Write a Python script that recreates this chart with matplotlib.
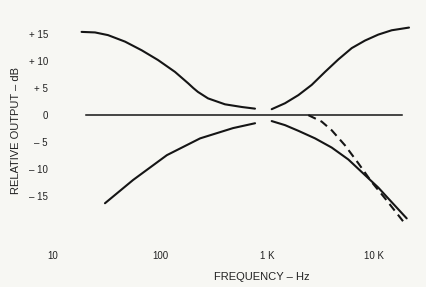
import numpy as np
import matplotlib
matplotlib.use("Agg")
import matplotlib.pyplot as plt

# Tone control response curves (frequency in Hz, output in dB)
bass_boost_f = [18.5, 24.7, 32.7, 47.1, 67.4, 95.7, 138, 183, 205, 226, 281, 405, 584, 772]
bass_boost_db = [15.4, 15.3, 14.8, 13.6, 12.0, 10.2, 8.0, 5.9, 5.0, 4.3, 3.1, 2.0, 1.5, 1.2]

bass_cut_f = [30.6, 56, 116, 237, 481, 773]
bass_cut_db = [-16.3, -12.0, -7.4, -4.3, -2.4, -1.5]

treble_boost_f = [1106, 1473, 1963, 2618, 3484, 4637, 6190, 8240, 10960, 14630, 21230]
treble_boost_db = [1.1, 2.2, 3.7, 5.6, 8.0, 10.3, 12.4, 13.8, 14.9, 15.7, 16.2]

treble_cut_f = [1106, 1473, 1963, 2812, 4024, 5750, 8240, 10960, 14630, 20200]
treble_cut_db = [-1.1, -1.85, -2.9, -4.3, -6.0, -8.2, -11.1, -13.4, -16.1, -19.1]

dashed_f = [2432, 3243, 4024, 5360, 7130, 9530, 12680, 19500]
dashed_db = [0, -1.2, -2.8, -5.6, -8.9, -12.4, -15.4, -20.1]

flat_f = [20.3, 18300]
flat_db = [0, 0]

x_ticks = [10, 100, 1000, 10000]
x_tick_labels = ["10", "100", "1 K", "10 K"]
y_ticks = [15, 10, 5, 0, -5, -10, -15]
y_tick_labels = ["+ 15", "+ 10", "+ 5", "0", "– 5", "– 10", "– 15"]

plt.rcParams['font.family'] = ['Liberation Sans', 'DejaVu Sans']
bg = "#f7f7f3"
ink = "#151515"
txt = "#222222"

fig = plt.figure(figsize=(4.26, 2.87), dpi=100, facecolor=bg)
W, H = 426, 287
left, right, top, bottom = 50, 415, 20, 240
ax = fig.add_axes([left / W, 1 - bottom / H, (right - left) / W, (bottom - top) / H])
ax.set_facecolor(bg)

lw = 1.5
ax.plot(flat_f, flat_db, color=ink, lw=1.1)
ax.plot(bass_boost_f, bass_boost_db, color=ink, lw=lw, solid_capstyle="round")
ax.plot(bass_cut_f, bass_cut_db, color=ink, lw=lw, solid_capstyle="round")
ax.plot(treble_boost_f, treble_boost_db, color=ink, lw=lw, solid_capstyle="round")
ax.plot(treble_cut_f, treble_cut_db, color=ink, lw=lw, solid_capstyle="round")
ax.plot(dashed_f, dashed_db, color=ink, lw=lw, linestyle=(0, (4, 2.5)))

ax.set_xscale("log")
ax.minorticks_off()
# set ticks before limits so they don't widen the view
ax.set_xticks(x_ticks)
ax.set_xticklabels(x_tick_labels)
ax.set_yticks(y_ticks)
ax.set_yticklabels(y_tick_labels)
ax.set_xlim(9.375, 24150)
ax.set_ylim(-23.1, 17.6)
ax.tick_params(axis="x", length=0, pad=8, labelsize=7, labelcolor=txt)
ax.tick_params(axis="y", length=0, pad=1.5, labelsize=7, labelcolor=txt)
for s in ax.spines.values():
    s.set_visible(False)

ax.set_xlabel("FREQUENCY – Hz", fontsize=8, color=txt)
ax.xaxis.set_label_coords((262 - left) / (right - left), (bottom - 272) / (bottom - top))
ax.set_ylabel("RELATIVE OUTPUT – dB", fontsize=8, color=txt)
ax.yaxis.set_label_coords((21 - left) / (right - left), 0.5)

fig.savefig("out.png", dpi=100, facecolor=bg)
